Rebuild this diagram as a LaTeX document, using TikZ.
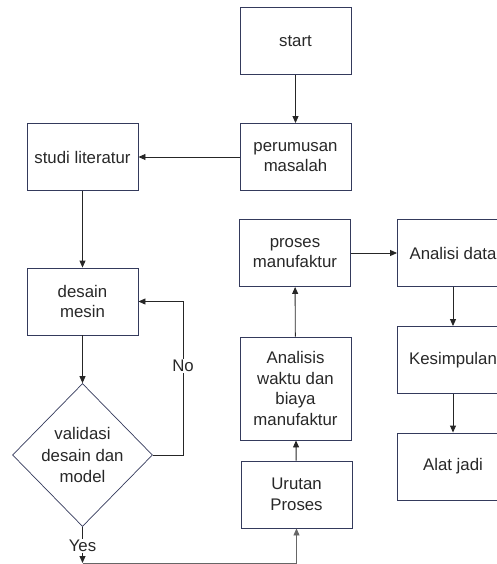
\documentclass[tikz,border=0pt]{standalone}
\usepackage{fontspec}
\setmainfont{Liberation Sans}
\usepackage{tikz}
\usetikzlibrary{arrows.meta, shapes.geometric}

\definecolor{boxline}{RGB}{52,58,92}
\definecolor{txt}{RGB}{40,40,40}

\tikzset{
  procbox/.style={draw=boxline, line width=0.9pt, fill=white, text=txt,
    minimum width=111pt, minimum height=67pt, align=center, inner sep=2pt,
    font=\fontsize{16.8}{20.5}\selectfont},
  decbox/.style={diamond, draw=boxline, line width=0.7pt, fill=white, text=txt,
    minimum width=140pt, minimum height=143pt, aspect=0.98, inner sep=0pt,
    align=center, font=\fontsize{16.8}{21.5}\selectfont},
  flow/.style={draw=black!85, line width=0.9pt, -{Triangle[length=7pt,width=6pt]}},
  edgelabel/.style={fill=white, text=txt, inner sep=1pt,
    font=\fontsize{16.8}{19}\selectfont},
}

\begin{document}
\begin{tikzpicture}[x=1pt, y=-1pt]
    \useasboundingbox (0,0) rectangle (497,564);

    % kolom tengah
    \node[procbox] (start)  at (295.5,41)  {start};
    \node[procbox] (rumus)  at (295.5,157) {perumusan\\masalah};
    \node[procbox] (proses) at (295,253)   {proses\\manufaktur};
    \node[procbox, minimum height=103pt] (biaya) at (295.5,388.5)
      {Analisis\\waktu dan\\biaya\\manufaktur};
    \node[procbox] (urutan) at (296.5,494.5) {Urutan\\Proses};

    % kolom kiri
    \node[procbox] (studi)  at (82.5,157)  {studi literatur};
    \node[procbox] (desain) at (82.5,301.5) {desain\\mesin};
    \node[decbox]  (valid)  at (82.5,455)  {validasi\\desain dan\\model};

    % kolom kanan
    \node[procbox] (data)   at (453,253)   {Analisi data};
    \node[procbox] (simpul) at (453,360)   {Kesimpulan};
    \node[procbox] (alat)   at (453,466.5) {Alat jadi};

    \coordinate (nobend) at (183,455);
    \coordinate (yesend) at (82.5,563);

    \draw[flow] (start) -- (rumus);
    \draw[flow] (rumus) -- (studi);
    \draw[flow] (studi) -- (desain);
    \draw[flow] (desain) -- (valid);
    \draw[flow] (valid.east) -- (nobend) -- (nobend |- desain.east) -- (desain.east);
    \node[edgelabel] (no) at (183,366) {No};
    \draw[flow] (valid.south) -- (yesend);
    \node[edgelabel] (yes) at (82.5,546) {Yes};
    \draw[flow, draw=black!60] (yesend) -- (yesend -| urutan.south) -- (urutan.south);
    \draw[flow] (urutan) -- (biaya);
    \draw[flow] (biaya) -- (proses);
    \draw[flow] (proses) -- (data);
    \draw[flow] (data) -- (simpul);
    \draw[flow] (simpul) -- (alat);
\end{tikzpicture}
\end{document}
